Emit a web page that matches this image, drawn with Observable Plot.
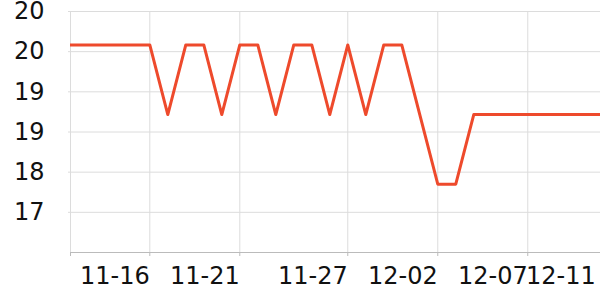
<!DOCTYPE html>
<html>
<head>
<meta charset="utf-8">
<script src="https://cdn.jsdelivr.net/npm/d3@7"></script>
<script src="https://cdn.jsdelivr.net/npm/@observablehq/plot@0.6"></script>
<style>
  html, body { margin: 0; padding: 0; background: #fff; }
  #chart svg { display: block; font-family: "DejaVu Sans", sans-serif; }
</style>
</head>
<body>
<div id="chart"></div>
<script>
// Data
const dates = [
  "2023-11-11","2023-11-12","2023-11-13","2023-11-14","2023-11-15","2023-11-16",
  "2023-11-17","2023-11-18","2023-11-19","2023-11-20","2023-11-21","2023-11-22",
  "2023-11-23","2023-11-24","2023-11-25","2023-11-26","2023-11-27","2023-11-28",
  "2023-11-29","2023-11-30","2023-12-01","2023-12-02","2023-12-03","2023-12-04",
  "2023-12-05","2023-12-06","2023-12-07","2023-12-08","2023-12-09","2023-12-10",
  "2023-12-11"
];
const values = [
  19.9, 19.9, 19.9, 19.9, 19.9, 19.9,
  18.86, 19.9, 19.9, 18.86, 19.9, 19.9,
  18.86, 19.9, 19.9, 18.86, 19.9, 18.86,
  19.9, 19.9, 18.86, 17.82, 17.82, 18.86,
  18.86, 18.86, 18.86, 18.86, 18.86, 18.86,
  18.86
];
const xTickDates = ["2023-11-16","2023-11-21","2023-11-27","2023-12-02","2023-12-07"];
const xLastTick = ["2023-12-11"];
const yTicks = [17.4, 18.0, 18.6, 19.2, 19.8, 20.4];
const yDomain = [16.8, 20.4];
const xDomain = ["2023-11-11T14:15:00Z", "2023-12-11T01:00:00Z"];

const data = dates.map((d, i) => ({date: new Date(d + "T00:00:00Z"), value: values[i]}));
const xt = xTickDates.map(d => new Date(d + "T00:00:00Z"));
const xl = xLastTick.map(d => new Date(d + "T00:00:00Z"));
const x0 = new Date(xDomain[0]);
const fmt = d3.utcFormat("%m-%d");
const yfmt = d3.format(".0f");

const chart = Plot.plot({
  width: 600,
  height: 300,
  marginLeft: 70,
  marginRight: 0,
  marginTop: 11,
  marginBottom: 48,
  style: {fontSize: "24px", fontFamily: "DejaVu Sans, sans-serif", color: "#111", background: "#fff"},
  x: {type: "utc", domain: [x0, new Date(xDomain[1])]},
  y: {type: "linear", domain: yDomain},
  marks: [
    Plot.gridY(yTicks, {stroke: "#dcdcdc", strokeOpacity: 1, strokeWidth: 1}),
    Plot.gridX(xt, {stroke: "#dcdcdc", strokeOpacity: 1, strokeWidth: 1}),
    Plot.gridX([x0], {stroke: "#dcdcdc", strokeOpacity: 1, strokeWidth: 1}),
    Plot.axisY(yTicks, {tickFormat: yfmt, tickSize: 2, tickPadding: 24, stroke: "#dcdcdc", fill: "#111", label: null}),
    Plot.axisX(xt, {tickFormat: fmt, tickSize: 4, tickPadding: 10, stroke: "#bbb", fill: "#111", textAnchor: "end", label: null}),
    Plot.axisX([x0], {tickFormat: () => "", tickSize: 4, stroke: "#bbb", label: null}),
    Plot.axisX(xl, {tickFormat: fmt, tickSize: 0, tickPadding: 14, fill: "#111", textAnchor: "end", dx: -4, label: null}),
    Plot.ruleY([yDomain[0]], {stroke: "#bbb", strokeWidth: 1}),
    Plot.lineY(data, {x: "date", y: "value", stroke: "#ee4a2c", strokeWidth: 3, clip: true})
  ]
});
document.getElementById("chart").appendChild(chart);
</script>
</body>
</html>
